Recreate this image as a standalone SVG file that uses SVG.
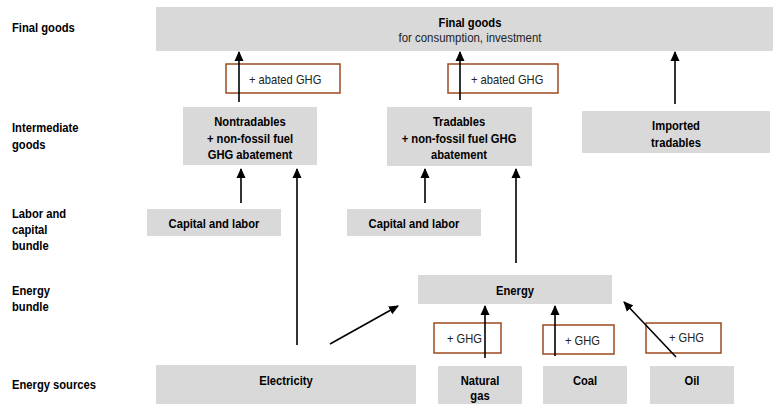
<svg xmlns="http://www.w3.org/2000/svg" width="775" height="404" viewBox="0 0 775 404">
<defs>
<marker id="ah" markerWidth="10" markerHeight="10" refX="9" refY="5" orient="auto" markerUnits="userSpaceOnUse">
<path d="M0,0.5 L10,5 L0,9.5 Z" fill="#000"/>
</marker>
<style>
.box{fill:#d9d9d9}
.ghg{fill:#fff;stroke:#9c4a1c;stroke-width:1.5}
text{font-family:"Liberation Sans",Arial,sans-serif;font-size:13px;fill:#000}
.b,.lab{font-weight:bold;font-size:13.5px}
.n{fill:#222}
.c{text-anchor:middle}
.arr{stroke:#000;stroke-width:1.6;fill:none;marker-end:url(#ah)}
</style>
</defs>
<rect width="775" height="404" fill="#fff"/>
<g id="row-labels">
<text class="lab" transform="matrix(0.83 0 0 1 12 32)">Final goods</text>
<text class="lab" transform="matrix(0.83 0 0 1 12 132)">Intermediate</text>
<text class="lab" transform="matrix(0.83 0 0 1 12 149)">goods</text>
<text class="lab" transform="matrix(0.83 0 0 1 12 218)">Labor and</text>
<text class="lab" transform="matrix(0.83 0 0 1 12 234)">capital</text>
<text class="lab" transform="matrix(0.83 0 0 1 12 250)">bundle</text>
<text class="lab" transform="matrix(0.83 0 0 1 12 295)">Energy</text>
<text class="lab" transform="matrix(0.83 0 0 1 12 311)">bundle</text>
<text class="lab" transform="matrix(0.83 0 0 1 12 389)">Energy sources</text>
</g>
<g id="final-goods">
<rect class="box" x="156" y="7" width="617" height="44"/>
<text class="b c" transform="matrix(0.83 0 0 1 470 27)">Final goods</text>
<text class="n c" transform="matrix(0.88 0 0 1 470 42)">for consumption, investment</text>
</g>
<g id="abated1"><rect class="ghg" x="226" y="64" width="114" height="29"/><text class="n" transform="matrix(0.86 0 0 1 249 84)">+ abated GHG</text></g>
<g id="abated2"><rect class="ghg" x="448" y="64" width="110" height="29"/><text class="n" transform="matrix(0.86 0 0 1 471 84)">+ abated GHG</text></g>
<g id="nontradables">
<rect class="box" x="183" y="107" width="134" height="58"/>
<text class="b c" transform="matrix(0.83 0 0 1 250 126)">Nontradables</text>
<text class="b c" transform="matrix(0.83 0 0 1 250 143)">+ non-fossil  fuel</text>
<text class="b c" transform="matrix(0.83 0 0 1 250 159)">GHG abatement</text>
</g>
<g id="tradables">
<rect class="box" x="387" y="107" width="145" height="59"/>
<text class="b c" transform="matrix(0.83 0 0 1 459 126)">Tradables</text>
<text class="b c" transform="matrix(0.83 0 0 1 459 143)">+ non-fossil  fuel GHG</text>
<text class="b c" transform="matrix(0.83 0 0 1 459 159)">abatement</text>
</g>
<g id="imported">
<rect class="box" x="582" y="111" width="188" height="42"/>
<text class="b c" transform="matrix(0.83 0 0 1 676 130)">Imported</text>
<text class="b c" transform="matrix(0.83 0 0 1 676 147)">tradables</text>
</g>
<g id="capital1"><rect class="box" x="147" y="209" width="134" height="27"/><text class="b c" transform="matrix(0.83 0 0 1 214 228)">Capital  and labor</text></g>
<g id="capital2"><rect class="box" x="347" y="209" width="134" height="27"/><text class="b c" transform="matrix(0.83 0 0 1 414 228)">Capital  and labor</text></g>
<g id="energy"><rect class="box" x="418" y="275" width="194" height="29"/><text class="b c" transform="matrix(0.83 0 0 1 515 295)">Energy</text></g>
<g id="ghg1"><rect class="ghg" x="434" y="323" width="67" height="30"/><text class="n" transform="matrix(0.86 0 0 1 447 343)">+ GHG</text></g>
<g id="ghg2"><rect class="ghg" x="543" y="325" width="71" height="29"/><text class="n" transform="matrix(0.86 0 0 1 565 345)">+ GHG</text></g>
<g id="ghg3"><rect class="ghg" x="646" y="323" width="75" height="30"/><text class="n" transform="matrix(0.86 0 0 1 669 342)">+ GHG</text></g>
<g id="electricity"><rect class="box" x="156" y="365" width="260" height="39"/><text class="b c" transform="matrix(0.83 0 0 1 286 385)">Electricity</text></g>
<g id="natural-gas"><rect class="box" x="438" y="366" width="84" height="38"/><text class="b c" transform="matrix(0.83 0 0 1 480 385)">Natural</text><text class="b c" transform="matrix(0.83 0 0 1 480 400)">gas</text></g>
<g id="coal"><rect class="box" x="543" y="366" width="84" height="38"/><text class="b c" transform="matrix(0.83 0 0 1 585 385)">Coal</text></g>
<g id="oil"><rect class="box" x="650" y="366" width="84" height="38"/><text class="b c" transform="matrix(0.83 0 0 1 692 385)">Oil</text></g>
<g id="connectors">
<line class="arr" x1="239" y1="102" x2="239" y2="52"/>
<line class="arr" x1="460" y1="100" x2="460" y2="52"/>
<line class="arr" x1="675" y1="104" x2="675" y2="52"/>
<line class="arr" x1="241" y1="203" x2="241" y2="169"/>
<line class="arr" x1="297" y1="345" x2="297" y2="169"/>
<line class="arr" x1="425" y1="203" x2="425" y2="169"/>
<line class="arr" x1="516" y1="263" x2="516" y2="169"/>
<line class="arr" x1="330" y1="344" x2="398" y2="306"/>
<line class="arr" x1="485" y1="358" x2="485" y2="306"/>
<line class="arr" x1="555" y1="356" x2="555" y2="306"/>
<line class="arr" x1="676" y1="357" x2="624" y2="302"/>
</g>
</svg>
